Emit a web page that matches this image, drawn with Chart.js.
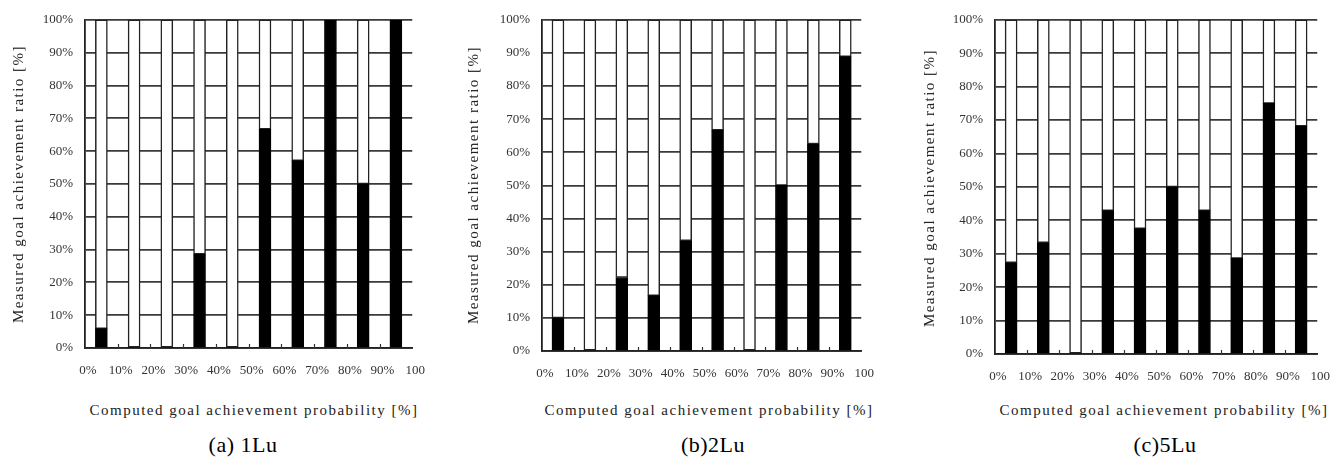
<!DOCTYPE html>
<html>
<head>
<meta charset="utf-8">
<script src="https://cdn.jsdelivr.net/npm/chart.js@4.4.1/dist/chart.umd.min.js"></script>
<style>
    html, body { margin: 0; padding: 0; background: #fff; }
    body { width: 1342px; height: 460px; position: relative; overflow: hidden; }
    canvas { position: absolute; top: 0; }
    .txt { position: absolute; text-align: center; white-space: nowrap; color: #222;
           font-family: 'Liberation Serif', 'DejaVu Serif', serif; }
    .xtitle, .ytitle { font-size: 15px; letter-spacing: 1.5px; height: 20px; line-height: 20px; width: 420px; }
    .ytitle { transform: rotate(-90deg); }
    .caption { font-size: 22px; height: 28px; line-height: 28px; width: 200px; color: #000; letter-spacing: 0.5px; }
</style>
</head>
<body>
<canvas id="chart-1lu"></canvas>
<canvas id="chart-2lu"></canvas>
<canvas id="chart-5lu"></canvas>

<script>
// computed goal achievement probability bins (centre of each 10% bin)
var binCenters = [5, 15, 25, 35, 45, 55, 65, 75, 85, 95];

// measured goal achievement ratio [%] per bin
var ratio1Lu = [5.9, 0, 0, 28.6, 0, 66.7, 57.1, 100, 50, 100];
var ratio2Lu = [10, 0, 22.2, 16.7, 33.3, 66.7, 0, 50, 62.5, 88.9];
var ratio5Lu = [27.3, 33.3, 0, 42.9, 37.5, 50, 42.9, 28.6, 75, 68.2];

var xTickLabels = ['0%', '10%', '20%', '30%', '40%', '50%', '60%', '70%', '80%', '90%', '100'];
var yTickLabels = ['0%', '10%', '20%', '30%', '40%', '50%', '60%', '70%', '80%', '90%', '100%'];

var xTitle = 'Computed goal achievement probability [%]';
var yTitle = 'Measured goal achievement ratio [%]';

// small ticks pointing up into the plot at the bin edges
var innerTicks = {
    id: 'innerTicks',
    afterDatasetsDraw: function (chart) {
        var ctx = chart.ctx;
        var x = chart.scales.x;
        var bottom = chart.chartArea.bottom;
        ctx.save();
        ctx.strokeStyle = '#333';
        ctx.lineWidth = 1.2;
        x.ticks.forEach(function (t) {
            if (t.value <= 0 || t.value >= 100) return;
            var px = Math.round(x.getPixelForValue(t.value)) + 0.5;
            ctx.beginPath();
            ctx.moveTo(px, bottom);
            ctx.lineTo(px, bottom - 4);
            ctx.stroke();
        });
        ctx.restore();
    }
};

function makePanel(id, values, plotLeft, plotRight, plotTop, plotBottom) {
    var yAxisWidth = 85;
    var padRight = 20;
    var height = 400;
    var xAxisHeight = 40;
    var canvas = document.getElementById(id);
    canvas.width = Math.round(plotRight - plotLeft) + yAxisWidth + padRight;
    canvas.height = height;
    canvas.style.left = Math.round(plotLeft - yAxisWidth) + 'px';

    var tickFont = { family: "'Liberation Serif', serif", size: 13 };

    return new Chart(canvas, {
        type: 'bar',
        data: {
            datasets: [
                {
                    data: binCenters.map(function (c, i) { return { x: c, y: [0, values[i]] }; }),
                    backgroundColor: '#000',
                    borderColor: '#000',
                    borderWidth: function (c) { return values[c.dataIndex] > 0 ? 1 : 0; },
                    borderSkipped: false,
                    grouped: false,
                    barThickness: 12,
                },
                {
                    data: binCenters.map(function (c, i) { return { x: c, y: [values[i], 100] }; }),
                    backgroundColor: '#fff',
                    borderColor: '#222',
                    borderWidth: 1.5,
                    borderSkipped: false,
                    grouped: false,
                    barThickness: 12,
                },
            ],
        },
        options: {
            responsive: false,
            animation: false,
            layout: {
                padding: {
                    left: 0,
                    right: padRight,
                    top: plotTop,
                    bottom: height - plotBottom - xAxisHeight,
                },
            },
            scales: {
                x: {
                    type: 'linear',
                    min: 0,
                    max: 100,
                    offset: false,
                    afterFit: function (axis) { axis.height = xAxisHeight; },
                    ticks: {
                        stepSize: 10,
                        autoSkip: false,
                        maxRotation: 0,
                        padding: 15,
                        labelOffset: 3,
                        color: '#333',
                        font: tickFont,
                        callback: function (v, i) { return xTickLabels[i]; },
                    },
                    grid: {
                        drawTicks: false,
                        color: function (c) { return c.tick && c.tick.value === 100 ? '#bbb' : 'rgba(0,0,0,0)'; },
                    },
                    border: { color: '#222', width: 1.8 },
                },
                y: {
                    min: 0,
                    max: 100,
                    afterFit: function (axis) { axis.width = yAxisWidth; },
                    ticks: {
                        stepSize: 10,
                        autoSkip: false,
                        padding: 12,
                        color: '#333',
                        font: tickFont,
                        callback: function (v, i) { return yTickLabels[i]; },
                    },
                    grid: {
                        drawTicks: false,
                        color: '#3a3a3a',
                        lineWidth: 1.8,
                    },
                    border: { color: '#222', width: 1.8 },
                },
            },
            plugins: {
                legend: { display: false },
                tooltip: { enabled: false },
            },
        },
        plugins: [innerTicks],
    });
}

makePanel('chart-1lu', ratio1Lu, 85, 417, 18, 348);
makePanel('chart-2lu', ratio2Lu, 542, 866, 18, 351);
makePanel('chart-5lu', ratio5Lu, 995, 1322, 19, 354);

// axis titles and captions as page text
var panels = [
    { yx: 18, yy: 184, xx: 254, caption: '(a) 1Lu', cx: 243 },
    { yx: 473, yy: 185, xx: 709, caption: '(b)2Lu', cx: 713 },
    { yx: 929, yy: 188, xx: 1164, caption: '(c)5Lu', cx: 1165 },
];
panels.forEach(function (p) {
    var yt = document.createElement('div');
    yt.className = 'txt ytitle';
    yt.textContent = yTitle;
    yt.style.left = (p.yx - 210) + 'px';
    yt.style.top = (p.yy - 10) + 'px';
    document.body.appendChild(yt);

    var xt = document.createElement('div');
    xt.className = 'txt xtitle';
    xt.textContent = xTitle;
    xt.style.left = (p.xx - 210) + 'px';
    xt.style.top = (410 - 10) + 'px';
    document.body.appendChild(xt);

    var cap = document.createElement('div');
    cap.className = 'txt caption';
    cap.textContent = p.caption;
    cap.style.left = (p.cx - 100) + 'px';
    cap.style.top = (445 - 14) + 'px';
    document.body.appendChild(cap);
});
</script>
</body>
</html>
